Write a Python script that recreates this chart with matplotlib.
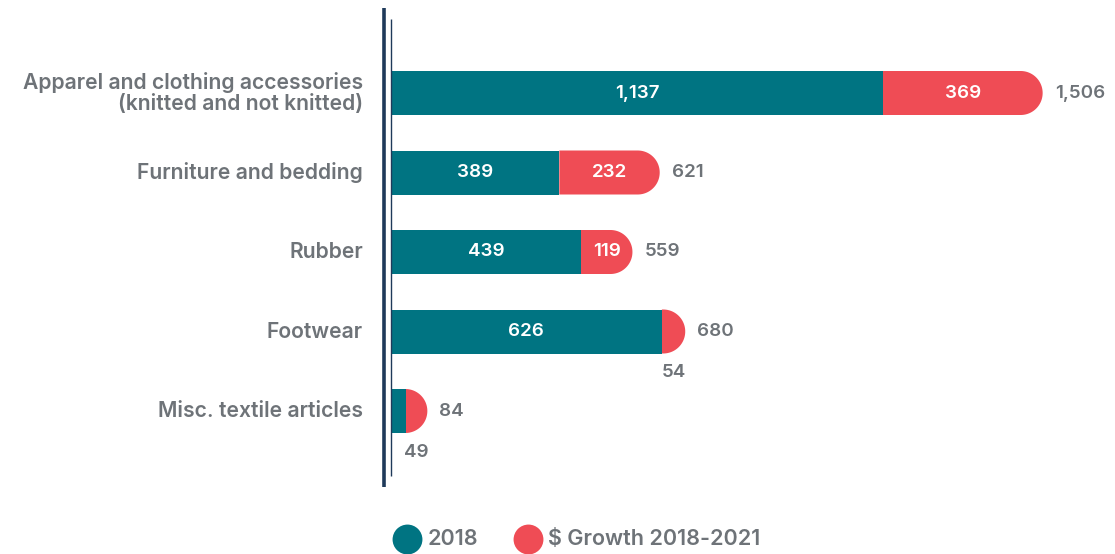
import matplotlib
matplotlib.use("Agg")
import matplotlib.pyplot as plt
import numpy as np
from matplotlib.patches import Polygon, Rectangle
from matplotlib.lines import Line2D

categories = [
    "Apparel and clothing accessories\n(knitted and not knitted)",
    "Furniture and bedding",
    "Rubber",
    "Footwear",
    "Misc. textile articles",
]
base_2018 = [1137, 389, 439, 626, 35]
growth = [369, 232, 119, 54, 49]
totals = [1506, 621, 559, 680, 84]
legend_labels = ["2018", "$ Growth 2018-2021"]

TEAL = "#007482"
RED = "#EF4C55"
GREY = "#6E7378"
NAVY = "#1F3A5A"

plt.rcParams["font.family"] = ["Inter", "DejaVu Sans"]
FS_VAL = 13.5
FS_CAT = 15.2
FS_LEG = 15.5
WEIGHT = "semibold"

W, H, DPI = 1115, 554, 100
fig = plt.figure(figsize=(W / DPI, H / DPI), dpi=DPI)
ax = fig.add_axes([0, 0, 1, 1])
ax.set_axis_off()

px_per_unit = 0.4327
x0_px = 391
ax.set_xlim(-x0_px / px_per_unit, (W - x0_px) / px_per_unit)
row_px = 79.5
top_px = 93
ax.set_ylim((H - top_px) / row_px, -top_px / row_px)

bar_h = 44 / row_px
# horizontal radius (data units) that yields a circular cap on screen
rx = (bar_h / 2) * row_px / px_per_unit


def capped_bar(y, left, right, color):
    """Bar from left to right whose right end is a half circle."""
    ry = bar_h / 2
    xc = right - rx
    t = np.linspace(-np.pi / 2, np.pi / 2, 60)
    arc = np.column_stack([xc + rx * np.cos(t), y + ry * np.sin(t)])
    start = min(left, xc)
    pts = np.vstack([[start, y - ry]] + [arc] + [[start, y + ry]])
    ax.add_patch(Polygon(pts, closed=True, facecolor=color, edgecolor="none"))


for i, (b, g, tot) in enumerate(zip(base_2018, growth, totals)):
    end = b + g
    capped_bar(i, b, end, RED)
    ax.add_patch(Rectangle((0, i - bar_h / 2), b, bar_h, facecolor=TEAL, edgecolor="none"))
    # segment values
    if b > 100:
        ax.text(b / 2, i, f"{b:,}", ha="center", va="center", color="white",
                fontsize=FS_VAL, fontweight=WEIGHT)
    if g > 100:
        ax.text(b + g / 2, i, f"{g:,}", ha="center", va="center", color="white",
                fontsize=FS_VAL, fontweight=WEIGHT)
    else:
        ax.text(b + g / 2, i + 0.52, f"{g:,}", ha="center", va="center", color=GREY,
                fontsize=FS_VAL, fontweight=WEIGHT)
    # totals
    ax.text(end + 12 / px_per_unit, i, f"{tot:,}", ha="left", va="center", color=GREY,
            fontsize=FS_VAL, fontweight=WEIGHT)
    # category names
    ax.text(-28 / px_per_unit, i, categories[i], ha="right", va="center", color=GREY,
            fontsize=FS_CAT, fontweight=WEIGHT, multialignment="right", linespacing=1.05)


def px_y(p):
    return (p - top_px) / row_px


# axis rules
ax.plot([-7 / px_per_unit] * 2, [px_y(8), px_y(487)], color=NAVY, lw=2.6,
        solid_capstyle="butt")
ax.plot([0, 0], [px_y(19), px_y(476)], color=NAVY, lw=1.0, solid_capstyle="butt")

# legend: filled circles followed by labels
leg_y = 1 - 539 / H
for (cx, tx), color, label in zip([(407, 428), (528, 548)], (TEAL, RED), legend_labels):
    fig.add_artist(Line2D([cx / W], [leg_y], marker="o", markersize=21.5,
                          markerfacecolor=color, markeredgecolor="none",
                          linestyle="none", transform=fig.transFigure))
    fig.text(tx / W, leg_y, label, ha="left", va="center", color=GREY,
             fontsize=FS_LEG, fontweight=WEIGHT)

fig.savefig("out.png", dpi=DPI)
